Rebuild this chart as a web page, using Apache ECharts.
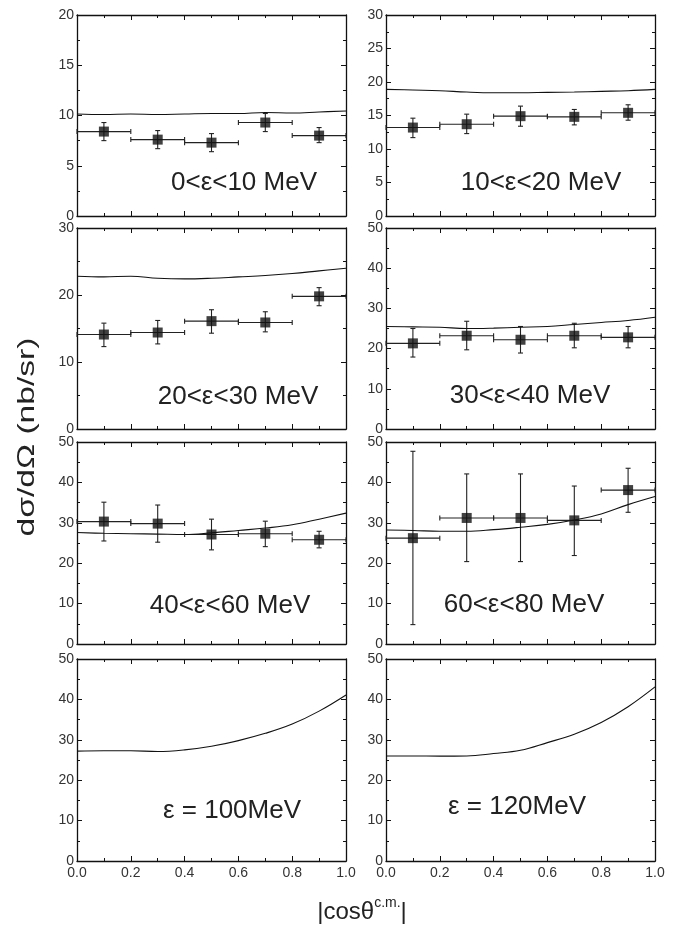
<!DOCTYPE html>
<html>
<head>
<meta charset="utf-8">
<script src="https://cdn.jsdelivr.net/npm/echarts@6/dist/echarts.min.js"></script>
<style>
html,body{margin:0;padding:0;background:#fff;}
#chart{width:685px;height:928px;}
</style>
</head>
<body>
<div id="chart"></div>
<script>
// ---- data ----
const binCenters = [0.1, 0.3, 0.5, 0.7, 0.9];
const binHalfWidth = 0.1;
const curveX = [0, 0.1, 0.2, 0.3, 0.4, 0.5, 0.6, 0.7, 0.8, 0.9, 1.0];
const xTickLabels = ['0.0', '0.2', '0.4', '0.6', '0.8', '1.0'];

const panelTitles = ['0<ε<10 MeV', '10<ε<20 MeV', '20<ε<30 MeV', '30<ε<40 MeV',
                     '40<ε<60 MeV', '60<ε<80 MeV', 'ε = 100MeV', 'ε = 120MeV'];
const yMax = [20, 30, 30, 50, 50, 50, 50, 50];
const yStep = [5, 5, 10, 10, 10, 10, 10, 10];

const p1Y  = [8.4, 7.6, 7.3, 9.3, 8.0];
const p1Lo = [7.5, 6.7, 6.4, 8.4, 7.3];
const p1Hi = [9.3, 8.5, 8.2, 10.2, 8.8];
const p1Curve = [10.15, 10.1, 10.15, 10.1, 10.15, 10.2, 10.2, 10.3, 10.25, 10.35, 10.45];

const p2Y  = [13.2, 13.7, 14.9, 14.8, 15.4];
const p2Lo = [11.7, 12.3, 13.4, 13.6, 14.3];
const p2Hi = [14.6, 15.2, 16.4, 15.9, 16.6];
const p2Curve = [18.9, 18.8, 18.7, 18.5, 18.4, 18.4, 18.45, 18.5, 18.6, 18.7, 18.9];

const p3Y  = [14.1, 14.4, 16.1, 15.9, 19.8];
const p3Lo = [12.3, 12.7, 14.3, 14.5, 18.4];
const p3Hi = [15.8, 16.2, 17.8, 17.5, 21.1];
const p3Curve = [22.8, 22.7, 22.8, 22.5, 22.4, 22.5, 22.7, 22.9, 23.2, 23.6, 24.0];

const p4Y  = [21.3, 23.2, 22.2, 23.2, 22.8];
const p4Lo = [17.9, 19.7, 18.9, 20.2, 20.2];
const p4Hi = [25.0, 26.8, 25.5, 26.3, 25.5];
const p4Curve = [25.5, 25.4, 25.3, 25.0, 25.1, 25.3, 25.5, 26.0, 26.5, 27.0, 27.8];

const p5Y  = [30.3, 29.8, 27.1, 27.3, 25.8];
const p5Lo = [25.5, 25.2, 23.3, 24.1, 23.8];
const p5Hi = [35.1, 34.4, 30.9, 30.4, 27.9];
const p5Curve = [27.6, 27.4, 27.3, 27.2, 27.1, 27.5, 28.1, 28.7, 29.5, 30.9, 32.4];

const p6Y  = [26.2, 31.2, 31.2, 30.6, 38.1];
const p6Lo = [4.8, 20.4, 20.4, 21.9, 32.6];
const p6Hi = [47.7, 42.1, 42.1, 39.1, 43.5];
const p6Curve = [28.2, 28.1, 27.9, 27.9, 28.3, 28.9, 29.6, 30.7, 32.2, 34.5, 36.5];

const p7Curve = [27.2, 27.3, 27.3, 27.1, 27.5, 28.4, 29.8, 31.6, 33.9, 37.1, 41.1];
const p8Curve = [26.0, 26.0, 25.95, 26.0, 26.6, 27.4, 29.3, 31.4, 34.3, 38.2, 43.1];

const pointsY  = [p1Y, p2Y, p3Y, p4Y, p5Y, p6Y, null, null];
const pointsLo = [p1Lo, p2Lo, p3Lo, p4Lo, p5Lo, p6Lo, null, null];
const pointsHi = [p1Hi, p2Hi, p3Hi, p4Hi, p5Hi, p6Hi, null, null];
const curves   = [p1Curve, p2Curve, p3Curve, p4Curve, p5Curve, p6Curve, p7Curve, p8Curve];

// ---- layout ----
const colLeft = [77, 386];
const colWidth = 269;
const rowTop = [15, 228, 442, 659];
const rowHeight = [201, 201, 202, 202];
const titlePos = [[244, 183], [541, 183], [238, 397], [530, 396], [230, 606], [524, 605], [232, 811], [517, 807]];

const FONT = 'Liberation Sans, Arial, Helvetica, sans-serif';
const grid = [], xAxis = [], yAxis = [], series = [], graphic = [];

for (let i = 0; i < 8; i++) {
  const col = i % 2, row = Math.floor(i / 2);
  grid.push({left: colLeft[col], top: rowTop[row], width: colWidth, height: rowHeight[row], containLabel: false});
  const isBottom = row === 3;
  const common = {
    type: 'value', min: 0, gridIndex: i,
    axisLine: {show: true, onZero: false, lineStyle: {color: '#111', width: 1.3}},
    axisTick: {show: true, inside: true, length: 5, lineStyle: {color: '#111'}},
    minorTick: {show: true, splitNumber: 2, length: 3, lineStyle: {color: '#111'}},
    splitLine: {show: false}
  };
  xAxis.push(Object.assign({}, common, {
    max: 1, interval: 0.2, position: 'bottom',
    axisLabel: {show: isBottom, margin: 5, color: '#333', fontSize: 14, fontFamily: FONT,
                formatter: v => xTickLabels[Math.round(v / 0.2)]}
  }));
  xAxis.push(Object.assign({}, common, {
    max: 1, interval: 0.2, position: 'top', axisLabel: {show: false}
  }));
  yAxis.push(Object.assign({}, common, {
    max: yMax[i], interval: yStep[i], position: 'left',
    axisLabel: {show: true, margin: 3, color: '#333', fontSize: 14, fontFamily: FONT}
  }));
  yAxis.push(Object.assign({}, common, {
    max: yMax[i], interval: yStep[i], position: 'right', axisLabel: {show: false}
  }));

  const xi = 2 * i, yi = 2 * i;
  series.push({
    type: 'line', xAxisIndex: xi, yAxisIndex: yi,
    data: curveX.map((x, k) => [x, curves[i][k]]),
    showSymbol: false, smooth: 0.4, silent: true,
    lineStyle: {color: '#111', width: 1.1}
  });

  if (pointsY[i]) {
    const errData = binCenters.map((x, k) => [x, pointsY[i][k], pointsLo[i][k], pointsHi[i][k], binHalfWidth]);
    series.push({
      type: 'custom', xAxisIndex: xi, yAxisIndex: yi, silent: true,
      data: errData,
      renderItem: function (params, api) {
        const x = api.value(0), y = api.value(1), lo = api.value(2), hi = api.value(3), hw = api.value(4);
        const c = api.coord([x, y]);
        const l = api.coord([x - hw, y]);
        const r = api.coord([x + hw, y]);
        const t = api.coord([x, hi]);
        const b = api.coord([x, lo]);
        const st = {stroke: '#222', lineWidth: 1.1};
        const cap = 2.5;
        return {
          type: 'group',
          children: [
            {type: 'line', shape: {x1: l[0], y1: c[1], x2: r[0], y2: c[1]}, style: st},
            {type: 'line', shape: {x1: l[0], y1: c[1] - cap, x2: l[0], y2: c[1] + cap}, style: st},
            {type: 'line', shape: {x1: r[0], y1: c[1] - cap, x2: r[0], y2: c[1] + cap}, style: st},
            {type: 'line', shape: {x1: c[0], y1: t[1], x2: c[0], y2: b[1]}, style: st},
            {type: 'line', shape: {x1: c[0] - cap, y1: t[1], x2: c[0] + cap, y2: t[1]}, style: st},
            {type: 'line', shape: {x1: c[0] - cap, y1: b[1], x2: c[0] + cap, y2: b[1]}, style: st}
          ]
        };
      },
      z: 3
    });
    series.push({
      type: 'scatter', xAxisIndex: xi, yAxisIndex: yi, silent: true,
      data: binCenters.map((x, k) => [x, pointsY[i][k]]),
      symbol: 'rect', symbolSize: 10,
      itemStyle: {color: '#111'}, z: 4
    });
  }

  graphic.push({
    type: 'text', x: titlePos[i][0], y: titlePos[i][1],
    style: {text: panelTitles[i], font: '26px ' + FONT, fill: '#222', align: 'center', verticalAlign: 'middle'}
  });
}

graphic.push({
  type: 'text', x: 27, y: 437, rotation: Math.PI / 2, scaleX: 1.4, scaleY: 1,
  style: {text: 'dσ/dΩ (nb/sr)', font: '24px ' + FONT, fill: '#222', align: 'center', verticalAlign: 'middle'}
});
graphic.push({
  type: 'text', x: 362, y: 910,
  style: {
    text: '{m||cosθ}{s|c.m.}{m||}',
    align: 'center', verticalAlign: 'middle', fill: '#222',
    rich: {
      m: {font: '24px ' + FONT, fill: '#222', verticalAlign: 'bottom'},
      s: {font: '14px ' + FONT, fill: '#222', verticalAlign: 'top', padding: [0, 0, 14, 0]}
    }
  }
});

const chart = echarts.init(document.getElementById('chart'), null, {renderer: 'canvas'});
chart.setOption({
  backgroundColor: '#fff',
  animation: false,
  grid, xAxis, yAxis, series, graphic
});
</script>
</body>
</html>
